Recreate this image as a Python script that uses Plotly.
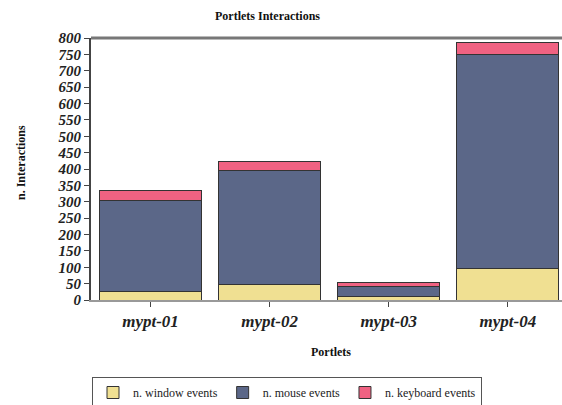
import plotly.graph_objects as go

categories = ["mypt-01", "mypt-02", "mypt-03", "mypt-04"]
window_events = [25, 48, 10, 96]
mouse_events = [280, 347, 32, 655]
keyboard_events = [30, 29, 12, 35]
y_ticks = list(range(0, 801, 50))

series = [
    ("n. window events", window_events, "#F0E092"),
    ("n. mouse events", mouse_events, "#5B6788"),
    ("n. keyboard events", keyboard_events, "#F06282"),
]

fig = go.Figure()
for name, vals, col in series:
    fig.add_trace(go.Bar(
        x=categories, y=vals, name=name,
        marker=dict(color=col, line=dict(color="#333333", width=1)),
    ))

serif = "Liberation Serif, Times New Roman, serif"

fig.update_layout(
    width=562, height=405,
    margin=dict(l=91, r=0, t=38, b=105, autoexpand=False),
    barmode="stack", bargap=0.143,
    paper_bgcolor="white", plot_bgcolor="white",
    showlegend=True,
    legend=dict(
        orientation="h", x=(287 - 91) / 471, xanchor="center",
        y=(300 - 377) / 262, yanchor="top",
        font=dict(family=serif, size=12, color="#222"),
        bordercolor="#555", borderwidth=1, traceorder="normal",
        itemwidth=30, tracegroupgap=0,
    ),
    xaxis=dict(
        range=[-0.5, 3.455], showgrid=False,
        showline=True, linecolor="#999999", linewidth=2,
        ticks="outside", ticklen=5, tickcolor="#444",
        tickfont=dict(family=serif, size=17, color="#222", weight="bold", style="italic"),
    ),
    yaxis=dict(
        range=[0, 800], tickvals=y_ticks, showgrid=False, zeroline=False,
        showline=True, linecolor="#444444", linewidth=2,
        ticks="outside", ticklen=5, tickcolor="#444",
        tickfont=dict(family=serif, size=15, color="#222", weight="bold", style="italic"),
    ),
    annotations=[
        dict(text="<b>Portlets Interactions</b>", xref="paper", yref="paper",
             x=(267 - 91) / 471, y=(300 - 16) / 262, xanchor="center", yanchor="middle",
             showarrow=False, font=dict(family=serif, size=12, color="#111")),
        dict(text="<b>n. Interactions</b>", xref="paper", yref="paper",
             x=(21 - 91) / 471, y=(300 - 163) / 262, xanchor="center", yanchor="middle",
             textangle=-90, showarrow=False, font=dict(family=serif, size=12, color="#111")),
        dict(text="<b>Portlets</b>", xref="paper", yref="paper",
             x=(331 - 91) / 471, y=(300 - 352) / 262, xanchor="center", yanchor="middle",
             showarrow=False, font=dict(family=serif, size=12, color="#111")),
    ],
    shapes=[
        dict(type="line", xref="paper", yref="paper", x0=0, x1=1, y0=1, y1=1,
             line=dict(color="#777777", width=3)),
    ],
)

fig.write_html(
    "out.html",
    config={"displayModeBar": False},
    post_script="document.body.style.margin='0';document.body.style.overflow='hidden';",
)
